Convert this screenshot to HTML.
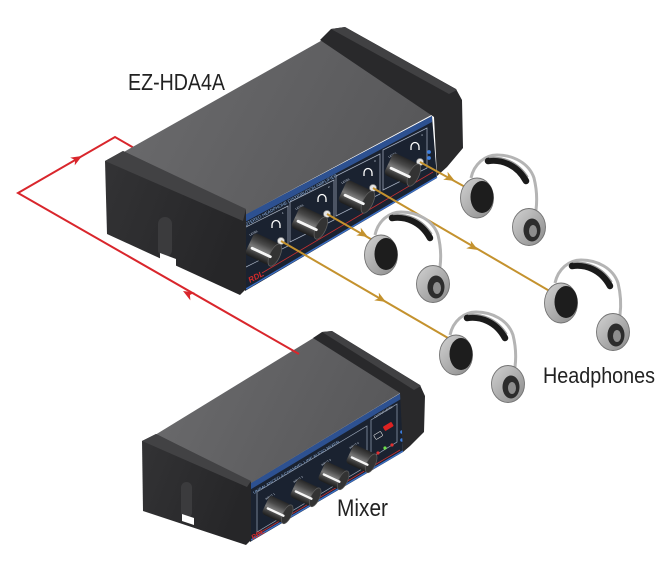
<!DOCTYPE html>
<html><head><meta charset="utf-8"><style>
html,body{margin:0;padding:0;background:#fff;}
svg{display:block;}
</style></head><body>
<svg width="670" height="574" viewBox="0 0 670 574" xmlns="http://www.w3.org/2000/svg" font-family="'Liberation Sans', Arial, sans-serif">
<defs>
 <linearGradient id="topA" x1="0" y1="0" x2="1" y2="0.3">
  <stop offset="0" stop-color="#6c6c6e"/><stop offset="1" stop-color="#58585a"/>
 </linearGradient>
 <linearGradient id="capL" x1="0" y1="0" x2="1" y2="0.4">
  <stop offset="0" stop-color="#333335"/><stop offset="1" stop-color="#262628"/>
 </linearGradient>
 <linearGradient id="kg" x1="0" y1="0" x2="0" y2="1">
  <stop offset="0" stop-color="#262626"/><stop offset="0.3" stop-color="#4a4a4a"/><stop offset="0.55" stop-color="#7a7a7a"/><stop offset="0.8" stop-color="#3c3c3c"/><stop offset="1" stop-color="#1c1c1c"/>
 </linearGradient>
 <linearGradient id="cupg" x1="0" y1="0" x2="1" y2="1">
  <stop offset="0" stop-color="#d2d2d2"/><stop offset="1" stop-color="#8a8a8a"/>
 </linearGradient>
 <g id="knob">
  <rect x="-16" y="-12" width="28" height="24" rx="4" fill="url(#kg)"/>
  <ellipse cx="12" cy="0" rx="5" ry="12" fill="#333" stroke="#5e5e5e" stroke-width="0.8"/>
  <rect x="-13" y="2" width="23" height="2.8" rx="1.4" fill="#f6f6f6"/>
 </g>
 <g id="hp">
  <path d="M-6,-20 C-3,-34 8,-43 20,-43 C36,-43 52,-35 57,-20 C60,-8 60,4 59,12" fill="none" stroke="#b4b4b4" stroke-width="3"/>
  <path d="M11,-37 C24,-39 40,-34 49,-17" fill="none" stroke="#1a1a1a" stroke-width="6.5" stroke-linecap="round"/>
  <path d="M12,-40.5 C25,-42 41,-37 51,-21" fill="none" stroke="#9a9a9a" stroke-width="1.2"/>
  <ellipse cx="52" cy="29" rx="16.5" ry="18.5" fill="url(#cupg)" stroke="#737373" stroke-width="0.9"/>
  <ellipse cx="55" cy="32" rx="8.5" ry="11.5" fill="#2c2c2c"/>
  <ellipse cx="56" cy="33" rx="4" ry="6" fill="#8d8d8d"/>
  <ellipse cx="0" cy="0" rx="16.5" ry="20" fill="url(#cupg)" stroke="#737373" stroke-width="0.9"/>
  <ellipse cx="5" cy="-1" rx="11.5" ry="16" fill="#1d1d1d"/>
 </g>
 <path id="arr" d="M0,0 L-11,-4.5 L-8,0 L-11,4.5 Z"/>
 <g id="hpi">
  <path d="M-4,3 L-4,0 A4,4.5 0 0 1 4,0 L4,3" fill="none" stroke="#fff" stroke-width="1.3"/>
 </g>
</defs>

<!-- ================= MIXER ================= -->
<polygon points="155,435 315,337 402,392 248,485" fill="url(#topA)"/>
<polygon points="248,485 401,393 403,452 250,542" fill="#1a2230"/>
<polygon points="248,485 401,393 401,399 248,491" fill="#2d5191"/>
<line x1="251" y1="540" x2="403" y2="451" stroke="#3a6ec4" stroke-width="1.5"/>
<line x1="256" y1="535" x2="400" y2="450" stroke="#c83030" stroke-width="0.8"/>
<text transform="translate(254,494) rotate(-31)" font-size="3.8" fill="#8fb6e8" textLength="100" lengthAdjust="spacingAndGlyphs">UNBALANCED 4-CHANNEL LINE AUDIO MIXER</text>
<polygon points="257,492 367,426 367,466 257,532" fill="none" stroke="#9aa6b8" stroke-width="0.7"/>
<polygon points="371,420 397,404 397,442 371,458" fill="none" stroke="#9aa6b8" stroke-width="0.7"/>
<text transform="translate(375,418) rotate(-31)" font-size="2.8" fill="#cfd8e6">OUTPUT LEVEL</text>
<rect x="383" y="424" width="10" height="5" rx="1" fill="#d22" transform="rotate(-31 388 426)"/>
<rect x="374" y="433" width="8" height="5" rx="1" fill="none" stroke="#ddd" stroke-width="0.6" transform="rotate(-31 378 435)"/>
<circle cx="385" cy="448" r="1.6" fill="#6ce04a"/>
<circle cx="378" cy="453" r="1.6" fill="#e03030"/>
<circle cx="392" cy="445" r="1.6" fill="#e03030"/>
<circle cx="402" cy="432" r="1.8" fill="#3d7fe0"/>
<circle cx="402" cy="440" r="1.8" fill="#3d7fe0"/>
<text transform="translate(266,500) rotate(-31)" font-size="2.8" fill="#cfd8e6">INPUT 1</text>
<text transform="translate(294,483) rotate(-31)" font-size="2.8" fill="#cfd8e6">INPUT 2</text>
<text transform="translate(322,466) rotate(-31)" font-size="2.8" fill="#cfd8e6">INPUT 3</text>
<text transform="translate(350,449) rotate(-31)" font-size="2.8" fill="#cfd8e6">INPUT 4</text>
<use href="#knob" transform="translate(278,510) rotate(25) scale(0.85)"/>
<use href="#knob" transform="translate(306,493) rotate(25) scale(0.85)"/>
<use href="#knob" transform="translate(334,476) rotate(25) scale(0.85)"/>
<use href="#knob" transform="translate(362,459) rotate(25) scale(0.85)"/>
<text transform="translate(253,540) rotate(-31)" font-size="7" font-style="italic" font-weight="bold" fill="#d42a2a">RDL</text>
<!-- mixer caps -->
<polygon points="142,441 156,434 251,482 251,540 246,545 143,511" fill="url(#capL)"/>
<polygon points="142,441 156,434 251,481 247,487" fill="#424244"/>
<rect x="181" y="482" width="11" height="36" rx="5.5" fill="#3b3b3d"/>
<polygon points="182,514 194,518 194,525 182,521" fill="#fff"/>
<polygon points="313,338 322,332 332,331 420,385 425,396 424,432 410,446 403,452 400,393" fill="#29292b"/>
<polygon points="322,332 332,331 421,386 414,390" fill="#414143"/>

<!-- ================= RED SIGNAL LINE ================= -->
<polyline points="299,354 18,193 115,137 134,148" fill="none" stroke="#d9262c" stroke-width="2"/>
<use href="#arr" fill="#d9262c" transform="translate(183,291) rotate(209.6)"/>
<use href="#arr" fill="#d9262c" transform="translate(82,156) rotate(-30)"/>

<!-- ================= EZ-HDA4A ================= -->
<polygon points="122,153 326,38 437,112 245,215" fill="url(#topA)"/>
<polygon points="243,216 432,116 437,178 245,291" fill="#1a2230"/>
<polygon points="243,216 432,116 432,122 243,223" fill="#2d5191"/>
<line x1="246" y1="289" x2="437" y2="177" stroke="#3a6ec4" stroke-width="1.5"/>
<line x1="262" y1="273" x2="433" y2="172" stroke="#c83030" stroke-width="0.8"/>
<text transform="translate(246,226) rotate(-28.5)" font-size="4.2" fill="#8fb6e8" textLength="104" lengthAdjust="spacingAndGlyphs">STEREO HEADPHONE DISTRIBUTION AMPLIFIER</text>
<g fill="none" stroke="#a8b2c2" stroke-width="0.7">
 <polygon points="244,228 288,206 288,246 244,268"/>
 <polygon points="290,202 334,180 334,220 290,242"/>
 <polygon points="336,176 380,154 380,194 336,216"/>
 <polygon points="383,150 427,128 427,168 383,190"/>
</g>
<g font-size="3" fill="#cfd8e6">
 <text transform="translate(250,236) rotate(-28)">LEVEL</text>
 <text transform="translate(296,210) rotate(-28)">LEVEL</text>
 <text transform="translate(342,184) rotate(-28)">LEVEL</text>
 <text transform="translate(389,158) rotate(-28)">LEVEL</text>
 <text x="282" y="214">1</text>
 <text x="328" y="188">2</text>
 <text x="374" y="162">3</text>
 <text x="421" y="136">4</text>
</g>
<use href="#hpi" transform="translate(276,225)"/>
<use href="#hpi" transform="translate(322,199)"/>
<use href="#hpi" transform="translate(368,173)"/>
<use href="#hpi" transform="translate(415,147)"/>
<g fill="#e6e6e6" stroke="#8a8a8a" stroke-width="0.7">
 <circle cx="281" cy="241" r="3.5"/>
 <circle cx="327" cy="214" r="3.5"/>
 <circle cx="373" cy="188" r="3.5"/>
 <circle cx="420" cy="162" r="3.5"/>
</g>
<circle cx="429" cy="152" r="1.9" fill="#3d7fe0"/>
<circle cx="429" cy="158" r="1.9" fill="#3d7fe0"/>
<use href="#knob" transform="translate(264,250) rotate(25)"/>
<use href="#knob" transform="translate(310,223) rotate(25)"/>
<use href="#knob" transform="translate(357,197) rotate(25)"/>
<use href="#knob" transform="translate(403,170) rotate(25)"/>
<text transform="translate(250,283) rotate(-28)" font-size="8" font-style="italic" font-weight="bold" fill="#d42a2a">RDL</text>
<!-- caps -->
<polygon points="105,161 123,151 246,210 246,289 240,295 107,234" fill="url(#capL)"/>
<polygon points="105,161 123,151 246,209 243,221" fill="#424244"/>
<rect x="158" y="217" width="14" height="40" rx="7" fill="#3b3b3d"/>
<polygon points="160,253 176,259 176,267 160,261" fill="#fff"/>
<polygon points="320,40 331,29 345,27 456,89 462,100 463,148 447,167 437,176 434,117" fill="#29292b"/>
<polygon points="331,29 345,27 457,90 449,94" fill="#414143"/>

<!-- ================= GOLD LINES ================= -->
<g stroke="#c4922e" stroke-width="2" fill="none">
 <line x1="281" y1="241" x2="448" y2="338"/>
 <line x1="327" y1="214" x2="376" y2="242"/>
 <line x1="373" y1="188" x2="553" y2="293"/>
 <line x1="420" y1="162" x2="467" y2="188"/>
</g>
<use href="#arr" fill="#c4922e" transform="translate(386,302) rotate(30.3)"/>
<use href="#arr" fill="#c4922e" transform="translate(368,237) rotate(30)"/>
<use href="#arr" fill="#c4922e" transform="translate(478,250) rotate(30.3)"/>
<use href="#arr" fill="#c4922e" transform="translate(455,181) rotate(29)"/>

<!-- ================= HEADPHONES ================= -->
<use href="#hp" transform="translate(477,198)"/>
<use href="#hp" transform="translate(381,255)"/>
<use href="#hp" transform="translate(561,303)"/>
<use href="#hp" transform="translate(456,355)"/>

<!-- ================= LABELS ================= -->
<text x="128" y="90" font-size="23.5" fill="#222" textLength="97" lengthAdjust="spacingAndGlyphs">EZ-HDA4A</text>
<text x="543" y="383" font-size="22.5" fill="#222" textLength="112" lengthAdjust="spacingAndGlyphs">Headphones</text>
<text x="337" y="516" font-size="24" fill="#222" textLength="51" lengthAdjust="spacingAndGlyphs">Mixer</text>
</svg>
</body></html>
